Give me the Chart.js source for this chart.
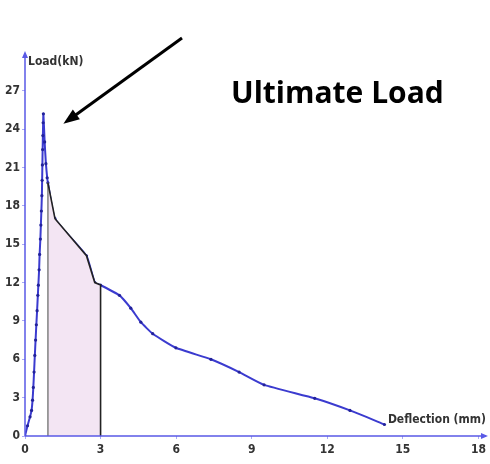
<!DOCTYPE html>
<html>
<head>
<meta charset="utf-8">
<script src="https://cdn.jsdelivr.net/npm/chart.js@4/dist/chart.umd.min.js"></script>
<style>
  html, body { margin: 0; padding: 0; background: #fff; }
  #wrap { width: 490px; height: 464px; position: relative; }
</style>
</head>
<body>
<div id="wrap"><canvas id="loadChart"></canvas></div>
<script>
// load-deflection test curve (deflection in mm, load in kN)
const deflection = [0, 0.1, 0.2, 0.26, 0.3, 0.33, 0.36, 0.39, 0.42, 0.45, 0.48, 0.51, 0.53, 0.56, 0.58, 0.61, 0.63, 0.65, 0.67, 0.68, 0.69, 0.7, 0.71, 0.72, 0.73,
  0.78, 0.83, 0.88, 0.91, 1.19, 2.44, 2.77, 3.0, 3.75, 4.2, 4.6, 5.07, 5.99, 7.38, 8.5, 9.49, 11.5, 12.9, 14.27];
const load = [0, 0.8, 1.5, 2.0, 2.8, 3.8, 5.0, 6.3, 7.5, 8.7, 9.8, 11.0, 11.8, 13.0, 14.2, 15.4, 16.5, 17.6, 18.8, 20.0, 21.2, 22.4, 23.5, 24.5, 25.2,
  23.0, 21.3, 20.2, 19.8, 17.0, 14.1, 12.0, 11.8, 11.0, 10.0, 8.9, 8.0, 6.9, 6.0, 5.0, 4.0, 2.95, 2.0, 0.9];

// shaded band under the curve between the two vertical markers
const bandDeflection = [0.91, 0.91, 1.19, 2.44, 2.77, 3.0, 3.0];
const bandLoad = [0, 19.8, 17.0, 14.1, 12.0, 11.8, 0];

const xTicks = [0, 3, 6, 9, 12, 15, 18];
const yTicks = [0, 3, 6, 9, 12, 15, 18, 21, 24, 27];

const axisBlue = '#5a5ae6';
const lineBlue = '#3b3bcf';
const labelFont = { family: 'DejaVu Sans Condensed', size: 12, weight: 'bold' };

const curve = deflection.map((d, i) => ({ x: d, y: load[i] }));
const band = bandDeflection.map((d, i) => ({ x: d, y: bandLoad[i] }));

// axis lines with arrow heads, axis titles and the callout
const decor = {
  id: 'decor',
  afterDraw(chart) {
    const { ctx, chartArea: a, scales: { x, y } } = chart;
    const x0 = x.getPixelForValue(0), y0 = y.getPixelForValue(0);
    ctx.save();
    ctx.strokeStyle = axisBlue;
    ctx.fillStyle = axisBlue;
    ctx.lineWidth = 1.5;
    ctx.beginPath();
    ctx.moveTo(x0, y0); ctx.lineTo(x0, a.top);
    ctx.moveTo(x0, y0); ctx.lineTo(a.right, y0);
    ctx.stroke();
    ctx.beginPath();
    ctx.moveTo(x0, a.top - 4); ctx.lineTo(x0 - 3, a.top + 3); ctx.lineTo(x0 + 3, a.top + 3); ctx.closePath();
    ctx.moveTo(a.right + 2, y0); ctx.lineTo(a.right - 5, y0 - 3); ctx.lineTo(a.right - 5, y0 + 3); ctx.closePath();
    ctx.fill();

    ctx.fillStyle = '#333';
    ctx.font = 'bold 12px "DejaVu Sans Condensed"';
    ctx.textBaseline = 'middle';
    ctx.textAlign = 'left';
    ctx.fillText('Load(kN)', x0 + 3, a.top + 7);
    ctx.textAlign = 'right';
    ctx.fillText('Deflection (mm)', a.right, y0 - 16);

    // callout arrow pointing at the peak
    const peak = load.indexOf(Math.max(...load));
    const px = x.getPixelForValue(deflection[peak]) + 20;
    const py = y.getPixelForValue(load[peak]) + 10;
    const tx = 182, ty = 38;
    const ang = Math.atan2(py - ty, px - tx);
    ctx.strokeStyle = '#000';
    ctx.fillStyle = '#000';
    ctx.lineWidth = 3;
    ctx.beginPath();
    ctx.moveTo(tx, ty);
    ctx.lineTo(px - 10 * Math.cos(ang), py - 10 * Math.sin(ang));
    ctx.stroke();
    ctx.beginPath();
    ctx.moveTo(px, py);
    ctx.lineTo(px - 16 * Math.cos(ang) + 6 * Math.sin(ang), py - 16 * Math.sin(ang) - 6 * Math.cos(ang));
    ctx.lineTo(px - 16 * Math.cos(ang) - 6 * Math.sin(ang), py - 16 * Math.sin(ang) + 6 * Math.cos(ang));
    ctx.closePath();
    ctx.fill();

    ctx.font = 'bold 30px "Open Sans"';
    ctx.textAlign = 'left';
    ctx.textBaseline = 'alphabetic';
    ctx.fillText('Ultimate Load', 231, 103);
    ctx.restore();
  }
};

new Chart(document.getElementById('loadChart'), {
  type: 'scatter',
  data: {
    datasets: [
      {
        data: curve,
        showLine: true,
        borderColor: lineBlue,
        borderWidth: 2,
        tension: 0.15,
        pointRadius: 1.6,
        pointBackgroundColor: '#22229a',
        pointBorderWidth: 0,
        order: 2
      },
      {
        data: band,
        showLine: true,
        fill: 'origin',
        backgroundColor: '#f3e5f3',
        borderColor: '#222',
        borderWidth: 1.6,
        pointRadius: 0,
        segment: {
          borderColor: c => c.p0DataIndex === 0 ? '#888' : '#222'
        },
        order: 1
      }
    ]
  },
  options: {
    responsive: true,
    maintainAspectRatio: false,
    animation: false,
    layout: { padding: { top: 55, right: 2, left: 0, bottom: 0 } },
    plugins: { legend: { display: false }, tooltip: { enabled: false } },
    scales: {
      x: {
        type: 'linear',
        min: 0,
        max: 18.3,
        afterFit: s => { s.height = 28; },
        afterBuildTicks: s => { s.ticks = xTicks.map(v => ({ value: v })); },
        border: { display: false },
        grid: { drawOnChartArea: false, color: '#a9a9f5', tickLength: 3 },
        ticks: { color: '#333', font: labelFont, padding: 4, maxRotation: 0 }
      },
      y: {
        type: 'linear',
        min: 0,
        max: 29.8,
        afterFit: s => { s.width = 25; },
        afterBuildTicks: s => { s.ticks = yTicks.map(v => ({ value: v })); },
        border: { display: false },
        grid: { drawOnChartArea: false, color: '#a9a9f5', tickLength: 3 },
        ticks: { color: '#333', font: labelFont, padding: 2 }
      }
    }
  },
  plugins: [decor]
});
</script>
</body>
</html>
